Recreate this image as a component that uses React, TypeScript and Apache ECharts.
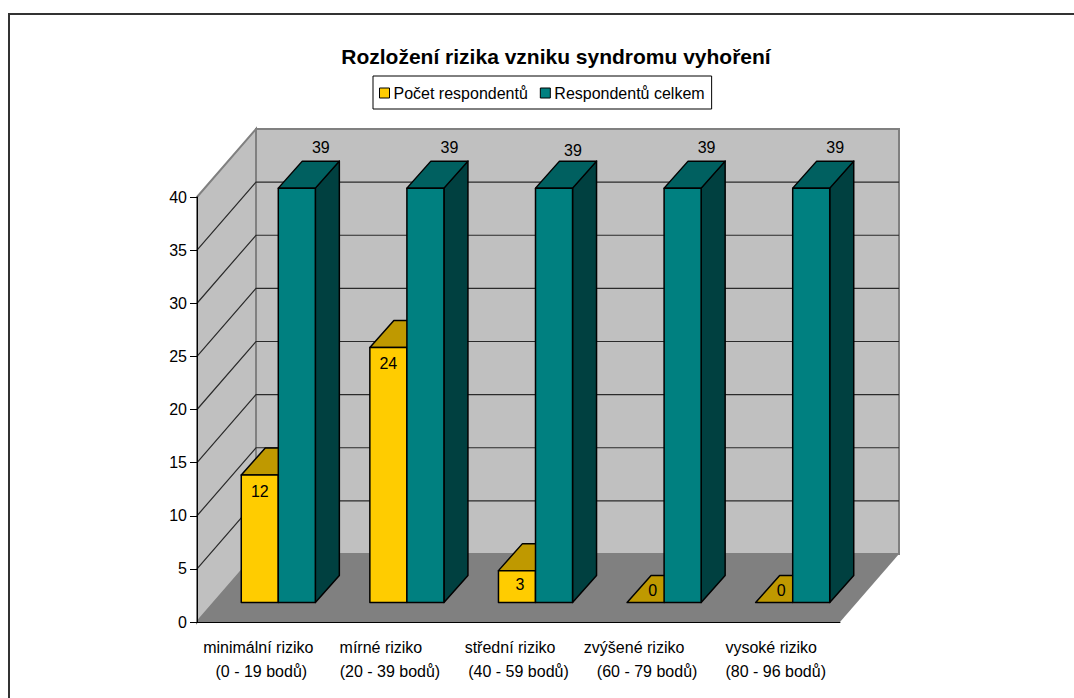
import React, { useEffect, useRef } from "react";
import * as echarts from "echarts";

const titleText = "Rozložení rizika vzniku syndromu vyhoření";
const categoryNames = ["minimální riziko", "mírné riziko", "střední riziko", "zvýšené riziko", "vysoké riziko"];
const categoryRanges = ["(0 - 19 bodů)", "(20 - 39 bodů)", "(40 - 59 bodů)", "(60 - 79 bodů)", "(80 - 96 bodů)"];
const seriesNames = ["Počet respondentů", "Respondentů celkem"];
const respondents = [12, 24, 3, 0, 0];
const respondentsTotal = [39, 39, 39, 39, 39];
const valueTicks = [5, 10, 15, 20, 25, 30, 35];

// Oblique projection of the 3D box: wall depth, gap in front of the bars, and bar depth.
const WALL_DX = 59;
const WALL_DY = -68;
const FRONT_DX = 17;
const FRONT_DY = -19.5;
const BAR_DX = 24;
const BAR_DY = -27;
const BAR_RATIO = 0.288;

const FONT = '"Liberation Sans", Arial, sans-serif';
const LABEL_FONT = `16px ${FONT}`;

// First label lines sit left of their band; right padding shifts them there.
const firstLineShift = [6, 18, 17, 26, 9];

const COLORS = {
  wall: "#C0C0C0",
  wallEdge: "#808080",
  floor: "#808080",
  yellow: { front: "#FFCC00", top: "#BF9900" },
  teal: { front: "#008080", top: "#006060", side: "#004040" },
};

function renderWalls(_: any, api: any) {
  const [x0, y0] = api.coord([0, 0]);
  const [, yTop] = api.coord([0, 40]);
  const band = api.size([1, 0])[0];
  const left = x0 - band / 2;
  const right = left + band * categoryNames.length;
  const wallEdge = { stroke: COLORS.wallEdge, lineWidth: 2 };

  const children: any[] = [
    {
      type: "rect",
      shape: { x: left + WALL_DX, y: yTop + WALL_DY, width: right - left, height: y0 - yTop },
      style: { fill: COLORS.wall, ...wallEdge },
    },
    {
      type: "polygon",
      shape: {
        points: [
          [left, yTop],
          [left + WALL_DX, yTop + WALL_DY],
          [left + WALL_DX, y0 + WALL_DY],
          [left, y0],
        ],
      },
      style: { fill: COLORS.wall, ...wallEdge },
    },
  ];

  valueTicks.forEach((v) => {
    const y = api.coord([0, v])[1];
    children.push({
      type: "polyline",
      shape: {
        points: [
          [left, y],
          [left + WALL_DX, y + WALL_DY],
          [right + WALL_DX, y + WALL_DY],
        ],
      },
      style: { fill: "none", stroke: "#2a2a2a", lineWidth: 1.2 },
    });
  });

  children.push({
    type: "polygon",
    shape: {
      points: [
        [left, y0],
        [right, y0],
        [right + WALL_DX, y0 + WALL_DY],
        [left + WALL_DX, y0 + WALL_DY],
      ],
    },
    style: { fill: COLORS.floor },
  });

  return { type: "group", children };
}

function barRenderer(seriesIndex: number) {
  const palette: any = seriesIndex === 0 ? COLORS.yellow : COLORS.teal;
  return (_: any, api: any) => {
    const idx = api.value(0);
    const val = api.value(1);
    const band = api.size([1, 0])[0];
    const w = band * BAR_RATIO;
    const cx = api.coord([idx, 0])[0];
    const x0 = cx + FRONT_DX - (seriesIndex === 0 ? w : 0);
    const x1 = x0 + w;
    const yBase = api.coord([idx, 0])[1] + FRONT_DY;
    const yTop = api.coord([idx, val])[1] + FRONT_DY;
    const edge = { stroke: "#000", lineWidth: 1.5, lineJoin: "round" };
    const children: any[] = [];

    if (palette.side) {
      children.push({
        type: "polygon",
        shape: {
          points: [
            [x1, yTop],
            [x1 + BAR_DX, yTop + BAR_DY],
            [x1 + BAR_DX, yBase + BAR_DY],
            [x1, yBase],
          ],
        },
        style: { fill: palette.side, ...edge },
      });
    }
    children.push({
      type: "polygon",
      shape: {
        points: [
          [x0, yTop],
          [x1, yTop],
          [x1 + BAR_DX, yTop + BAR_DY],
          [x0 + BAR_DX, yTop + BAR_DY],
        ],
      },
      style: { fill: palette.top, ...edge },
    });
    if (val > 0) {
      children.push({
        type: "rect",
        shape: { x: x0, y: yTop, width: w, height: yBase - yTop },
        style: { fill: palette.front, ...edge },
      });
    }

    // Value captions: above the box for the totals, inside or on the top face for the counts.
    const xc = (x0 + x1) / 2;
    let tx = xc;
    let ty = yTop + 16;
    if (seriesIndex === 1) {
      tx = xc + 24 + (idx === 2 ? -5 : 0);
      ty = yTop - 41 + (idx === 2 ? 3 : 0);
    } else if (val === 0) {
      tx = xc + 7;
      ty = yTop - 12;
    } else if (idx === 2) {
      tx = xc + 3;
      ty = yTop + 14;
    }
    children.push({
      type: "text",
      style: { text: String(val), x: tx, y: ty, align: "center", verticalAlign: "middle", fill: "#000", font: LABEL_FONT },
    });
    return { type: "group", children };
  };
}

const categoryRich: Record<string, any> = { r: { fontFamily: FONT, fontSize: 16, color: "#000", lineHeight: 24 } };
firstLineShift.forEach((shift, i) => {
  categoryRich[`n${i}`] = { fontFamily: FONT, fontSize: 16, color: "#000", lineHeight: 24, padding: [0, shift, 0, 0] };
});

export default function App() {
  const ref = useRef<HTMLDivElement>(null);

  useEffect(() => {
    const chart = echarts.init(ref.current!, undefined, { renderer: "svg" });
    chart.setOption({
      animation: false,
      backgroundColor: "#fff",
      title: {
        text: titleText,
        left: 551,
        top: 41,
        textAlign: "center",
        textStyle: { fontFamily: FONT, fontSize: 21, fontWeight: "bold", color: "#000" },
      },
      legend: {
        data: seriesNames,
        left: 373,
        top: 76,
        orient: "horizontal",
        padding: [9, 7, 8, 6],
        itemGap: 12,
        itemWidth: 10,
        itemHeight: 10,
        icon: "rect",
        selectedMode: false,
        backgroundColor: "#fff",
        borderColor: "#000",
        borderWidth: 1,
        itemStyle: { borderColor: "#000", borderWidth: 1 },
        textStyle: { fontFamily: FONT, fontSize: 16, color: "#000", padding: [0, 0, 0, -1] },
      },
      grid: { left: 197, right: 234, top: 197, bottom: 76 },
      xAxis: {
        type: "category",
        data: categoryNames,
        z: 10,
        axisLine: { lineStyle: { color: "#000", width: 1 } },
        axisTick: { length: 8, lineStyle: { color: "#000" } },
        axisLabel: {
          interval: 0,
          margin: 13,
          formatter: (name: string) => {
            const i = categoryNames.indexOf(name);
            return `{n${i}|${name}}\n{r|${categoryRanges[i]}}`;
          },
          rich: categoryRich,
        },
      },
      yAxis: {
        type: "value",
        min: 0,
        max: 40,
        interval: 5,
        z: 10,
        splitLine: { show: false },
        axisLine: { show: true, lineStyle: { color: "#000", width: 1 } },
        axisTick: { show: true, length: 7, lineStyle: { color: "#000" } },
        axisLabel: { margin: 10, color: "#000", fontFamily: FONT, fontSize: 16 },
      },
      series: [
        {
          type: "custom",
          name: "walls",
          z: 1,
          silent: true,
          data: [[0, 0]],
          renderItem: renderWalls,
        },
        {
          type: "custom",
          name: seriesNames[0],
          z: 2,
          itemStyle: { color: COLORS.yellow.front },
          data: respondents.map((v, i) => [i, v]),
          encode: { x: 0, y: 1 },
          renderItem: barRenderer(0),
        },
        {
          type: "custom",
          name: seriesNames[1],
          z: 3,
          itemStyle: { color: COLORS.teal.front },
          data: respondentsTotal.map((v, i) => [i, v]),
          encode: { x: 0, y: 1 },
          renderItem: barRenderer(1),
        },
      ],
      // The frame of the chart area runs past the right and bottom page edges.
      graphic: [
        {
          type: "rect",
          silent: true,
          shape: { x: 9, y: 14, width: 1200, height: 900 },
          style: { fill: "none", stroke: "#333", lineWidth: 2 },
        },
      ],
    });
    return () => chart.dispose();
  }, []);

  return <div ref={ref} style={{ position: "absolute", left: 0, top: 0, width: 1074, height: 698 }} />;
}
